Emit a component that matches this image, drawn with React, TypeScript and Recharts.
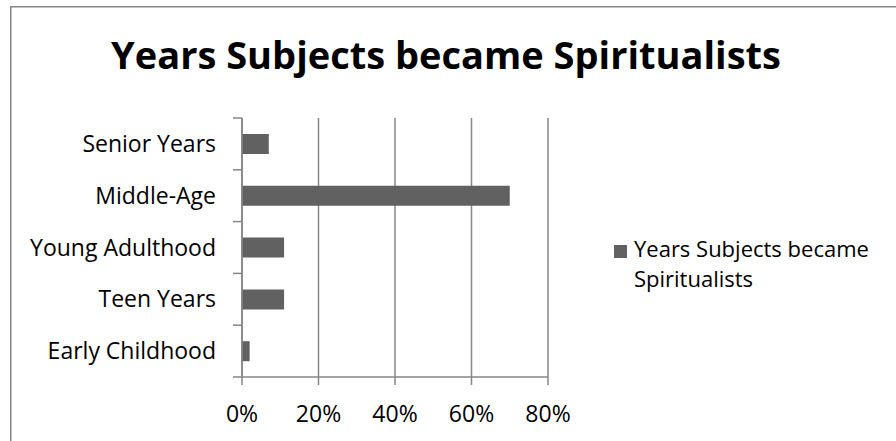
import { BarChart, Bar, XAxis, YAxis, CartesianGrid, Legend } from "recharts";

const categories = ["Senior Years", "Middle-Age", "Young Adulthood", "Teen Years", "Early Childhood"];
const shares = [7, 70, 11, 11, 2];
const xTicks = [0, 20, 40, 60, 80];
const seriesName = "Years Subjects became Spiritualists";

const data = categories.map((name, i) => ({ name, value: shares[i] }));

const GRAY = "#868686";
const BAR = "#616161";
const FONT = "'Open Sans', sans-serif";

// plot box
const TOP = 118;
const AXIS_X = 242;
const PLOT_H = 259;
const BAND = PLOT_H / categories.length;

function CategoryTick(props: any) {
  const { x, y, payload, index } = props;
  return (
    <g>
      <line x1={AXIS_X - 9} x2={AXIS_X} y1={y - BAND / 2} y2={y - BAND / 2} stroke={GRAY} strokeWidth={1.5} />
      {index === categories.length - 1 && (
        <line x1={AXIS_X - 9} x2={AXIS_X} y1={y + BAND / 2} y2={y + BAND / 2} stroke={GRAY} strokeWidth={1.5} />
      )}
      <text x={x} y={y} dy="0.355em" textAnchor="end" fill="#000" fontSize={23}>
        {payload.value}
      </text>
    </g>
  );
}

function LegendBox({ payload }: any) {
  return (
    <div style={{ display: "flex", alignItems: "flex-start", fontFamily: FONT }}>
      {(payload || []).map((p: any) => (
        <div key={p.value} style={{ display: "flex", alignItems: "flex-start" }}>
          <span style={{ width: 13, height: 13, background: BAR, marginTop: 11.5, marginRight: 7, flex: "none" }} />
          <span style={{ fontSize: 22, lineHeight: "30px", color: "#000", width: 250 }}>{p.value}</span>
        </div>
      ))}
    </div>
  );
}

export default function App() {
  return (
    <div style={{ position: "absolute", left: 0, top: 0, width: 896, height: 441, overflow: "hidden", background: "#fff", fontFamily: FONT }}>
      {/* chart frame (only top and left edges fall inside the picture) + title */}
      <svg width={896} height={441} style={{ position: "absolute", left: 0, top: 0 }}>
        <path d="M10.75 441 V6.75 H896" fill="none" stroke={GRAY} strokeWidth={1.5} />
        <text x={446} y={69} textAnchor="middle" fontSize={38} fontWeight={700} fill="#000" fontFamily={FONT}>
          {seriesName}
        </text>
      </svg>
      <div style={{ position: "absolute", left: 0, top: 0 }}>
        <BarChart width={896} height={441} data={data} layout="vertical" margin={{ top: TOP, right: 348, bottom: 34, left: 0 }}>
          <CartesianGrid horizontal={false} stroke={GRAY} strokeWidth={1.5} />
          <XAxis
            type="number"
            domain={[0, 80]}
            ticks={xTicks}
            tickFormatter={(v) => `${v}%`}
            stroke={GRAY}
            strokeWidth={1.5}
            tick={{ fill: "#000", fontSize: 23 }}
            tickSize={8}
            tickMargin={21}
            height={30}
          />
          <YAxis
            type="category"
            dataKey="name"
            width={AXIS_X}
            stroke={GRAY}
            strokeWidth={1.5}
            tickLine={false}
            tickSize={8}
            tickMargin={18}
            tick={<CategoryTick />}
            interval={0}
          />
          <Legend
            layout="vertical"
            align="center"
            verticalAlign="middle"
            wrapperStyle={{ left: 614, top: 233, width: 280 }}
            content={<LegendBox />}
          />
          <Bar dataKey="value" name={seriesName} fill={BAR} barSize={20} isAnimationActive={false} />
        </BarChart>
      </div>
    </div>
  );
}
